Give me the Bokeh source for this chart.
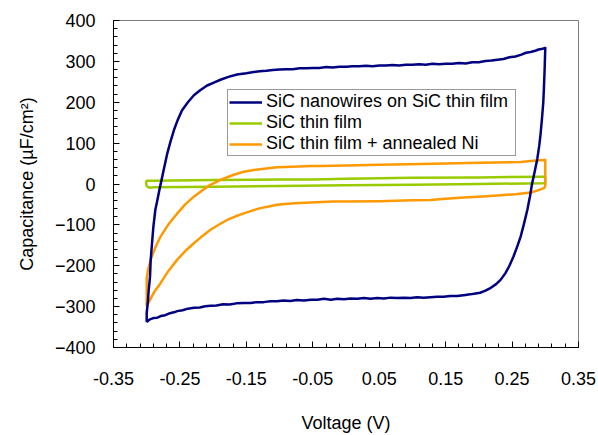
from bokeh.plotting import figure
from bokeh.models import Range1d, FixedTicker, NumeralTickFormatter, Legend, LegendItem
from bokeh.embed import file_html
from bokeh.resources import INLINE

# ---------------- data ----------------
x_ticks = [-0.35, -0.25, -0.15, -0.05, 0.05, 0.15, 0.25, 0.35]
x_minor = [-0.35, -0.33, -0.31, -0.29, -0.27, -0.25, -0.23, -0.21, -0.19, -0.17, -0.15,
           -0.13, -0.11, -0.09, -0.07, -0.05, -0.03, -0.01, 0.01, 0.03, 0.05, 0.07, 0.09,
           0.11, 0.13, 0.15, 0.17, 0.19, 0.21, 0.23, 0.25, 0.27, 0.29, 0.31, 0.33, 0.35]
y_ticks = [-400, -300, -200, -100, 0, 100, 200, 300, 400]
y_minor = [-400, -380, -360, -340, -320, -300, -280, -260, -240, -220, -200, -180, -160,
           -140, -120, -100, -80, -60, -40, -20, 0, 20, 40, 60, 80, 100, 120, 140, 160,
           180, 200, 220, 240, 260, 280, 300, 320, 340, 360, 380, 400]

series_names = ["SiC nanowires on SiC thin film", "SiC thin film", "SiC thin film + annealed Ni"]

# SiC nanowires on SiC thin film (closed CV loop)
nw_v = [-0.300, -0.296, -0.290, -0.284, -0.279, -0.272, -0.265, -0.259, -0.254, -0.246,
        -0.238, -0.229, -0.220, -0.212, -0.204, -0.195, -0.185, -0.175, -0.165, -0.154,
        -0.144, -0.134, -0.124, -0.114, -0.104, -0.094, -0.084, -0.074, -0.063, -0.053,
        -0.043, -0.033, -0.023, -0.013, -0.003, 0.007, 0.017, 0.027, 0.037, 0.047,
        0.057, 0.067, 0.077, 0.087, 0.097, 0.107, 0.117, 0.127, 0.137, 0.147,
        0.157, 0.167, 0.177, 0.187, 0.195, 0.202, 0.210, 0.218, 0.226, 0.233,
        0.240, 0.246, 0.252, 0.258, 0.263, 0.268, 0.273, 0.277, 0.280, 0.284,
        0.288, 0.291, 0.293, 0.295, 0.297, 0.298, 0.299, 0.300,
        0.296, 0.290, 0.285, 0.278, 0.271, 0.263, 0.255, 0.246, 0.237, 0.228,
        0.219, 0.210, 0.200, 0.190, 0.180, 0.170, 0.160, 0.150, 0.140, 0.130,
        0.120, 0.110, 0.100, 0.090, 0.080, 0.070, 0.060, 0.050, 0.040, 0.030,
        0.020, 0.010, 0.000, -0.010, -0.020, -0.030, -0.040, -0.050, -0.060, -0.070,
        -0.080, -0.090, -0.100, -0.110, -0.120, -0.130, -0.139, -0.150, -0.164, -0.177,
        -0.189, -0.199, -0.209, -0.219, -0.229, -0.238, -0.247, -0.253, -0.259, -0.264,
        -0.269, -0.273, -0.277, -0.281, -0.284, -0.287, -0.290, -0.292, -0.294, -0.295,
        -0.297, -0.298, -0.299, -0.300, -0.300]
nw_c = [-338, -332, -328, -327, -323, -321, -316, -314, -311, -309,
        -305, -303, -302, -299, -298, -297, -294, -295, -292, -291,
        -291, -289, -289, -287, -287, -285, -286, -284, -285, -283,
        -283, -281, -283, -281, -282, -280, -281, -279, -281, -279,
        -280, -278, -279, -278, -279, -277, -278, -277, -276, -276,
        -274, -274, -272, -270, -268, -266, -261, -254, -245, -234,
        -218, -200, -178, -152, -128, -97, -63, -30, 0, 30,
        62, 95, 124, 160, 200, 237, 280, 333,
        331, 329, 326, 323, 321, 316, 312, 310, 306, 304,
        302, 301, 298, 298, 295, 296, 294, 294, 293, 294,
        292, 293, 292, 292, 290, 291, 290, 290, 288, 289,
        288, 288, 287, 287, 285, 286, 284, 284, 283, 283,
        281, 281, 280, 279, 277, 276, 274, 271, 268, 262,
        255, 248, 241, 230, 217, 200, 180, 158, 132, 105,
        75, 45, 15, -15, -40, -63, -105, -145, -185, -226,
        -260, -283, -300, -315, -338]

# SiC thin film
tf_v = [-0.300, -0.296, -0.290, -0.200, -0.100, 0.000, 0.100, 0.200, 0.297, 0.300,
        0.300, 0.297, 0.200, 0.100, 0.000, -0.050, -0.100, -0.200, -0.290, -0.300,
        -0.301, -0.300]
tf_c = [-6, -9, -8, -7, -5, -3, -2, 0, 2, 4,
        16, 18, 16, 15, 13, 11, 11, 10, 8, 8,
        4, -6]

# SiC thin film + annealed Ni
ni_v = [-0.300, -0.295, -0.289, -0.279, -0.267, -0.254, -0.242, -0.229, -0.216, -0.204,
        -0.191, -0.179, -0.166, -0.154, -0.141, -0.129, -0.116, -0.104, -0.078, -0.053,
        -0.020, 0.000, 0.050, 0.100, 0.127, 0.150, 0.177, 0.200, 0.228, 0.255,
        0.278, 0.290, 0.298, 0.300, 0.300,
        0.290, 0.263, 0.200, 0.150, 0.112, 0.050, 0.000, -0.038, -0.053, -0.080,
        -0.104, -0.120, -0.139, -0.154, -0.170, -0.189, -0.204, -0.216, -0.229, -0.242,
        -0.254, -0.267, -0.279, -0.287, -0.294, -0.298, -0.300, -0.300]
ni_c = [-299, -283, -265, -242, -212, -185, -164, -145, -127, -112,
        -99, -88, -79, -72, -65, -59, -55, -51, -47, -45,
        -43, -43, -42, -40, -39, -36, -33, -31, -28, -25,
        -21, -15, -10, -5, 59,
        58, 54, 52, 50, 49, 47, 45, 44, 44, 42,
        41, 38, 34, 30, 22, 10, -2, -15, -31, -50,
        -72, -98, -128, -155, -185, -210, -230, -299]

colors = ["#000080", "#99CC00", "#FF9900"]

# ---------------- figure ----------------
FONT = "Liberation Sans"
p = figure(width=598, height=435,
           x_range=Range1d(-0.35, 0.35), y_range=Range1d(-400, 400),
           output_backend="svg", toolbar_location=None,
           min_border_left=113, min_border_right=20,
           min_border_top=20, min_border_bottom=87)
p.background_fill_color = "white"
p.border_fill_color = "white"
p.outline_line_color = "#808080"
p.outline_line_width = 1
p.xgrid.visible = False
p.ygrid.visible = False

r_tf = p.line(tf_v, tf_c, line_color=colors[1], line_width=2.5, line_join="round")
r_ni = p.line(ni_v, ni_c, line_color=colors[2], line_width=2.5, line_join="round")
r_nw = p.line(nw_v, nw_c, line_color=colors[0], line_width=2.5, line_join="round")

for ax in (p.xaxis[0], p.yaxis[0]):
    ax.axis_line_color = "black"
    ax.axis_line_width = 1
    ax.major_tick_line_color = "black"
    ax.minor_tick_line_color = "black"
    ax.major_tick_in = 6
    ax.major_tick_out = 0
    ax.minor_tick_in = 4
    ax.minor_tick_out = 0
    ax.major_label_text_font = FONT
    ax.major_label_text_font_size = "18px"
    ax.major_label_text_color = "black"
    ax.axis_label_text_font = FONT
    ax.axis_label_text_font_size = "18px"
    ax.axis_label_text_font_style = "normal"
    ax.axis_label_text_color = "black"

p.xaxis[0].ticker = FixedTicker(ticks=x_ticks, minor_ticks=x_minor)
p.xaxis[0].formatter = NumeralTickFormatter(format="0.00")
p.xaxis[0].major_label_standoff = 24
p.xaxis[0].axis_label = "Voltage (V)"
p.xaxis[0].axis_label_standoff = 25

p.yaxis[0].ticker = FixedTicker(ticks=y_ticks, minor_ticks=y_minor)
p.yaxis[0].major_label_standoff = 18
p.yaxis[0].axis_label = "Capacitance (µF/cm²)"
p.yaxis[0].axis_label_standoff = 15

legend = Legend(items=[LegendItem(label=series_names[0], renderers=[r_nw]),
                       LegendItem(label=series_names[1], renderers=[r_tf]),
                       LegendItem(label=series_names[2], renderers=[r_ni])],
                location=(114, 191), margin=0, padding=1, spacing=0,
                glyph_width=33, label_standoff=4, label_width=248,
                label_text_font=FONT, label_text_font_size="18px",
                label_text_color="black",
                border_line_color="#333333", border_line_width=1,
                background_fill_color="white", background_fill_alpha=1.0)
p.add_layout(legend)

open("out.html", "w").write(file_html(p, INLINE))
